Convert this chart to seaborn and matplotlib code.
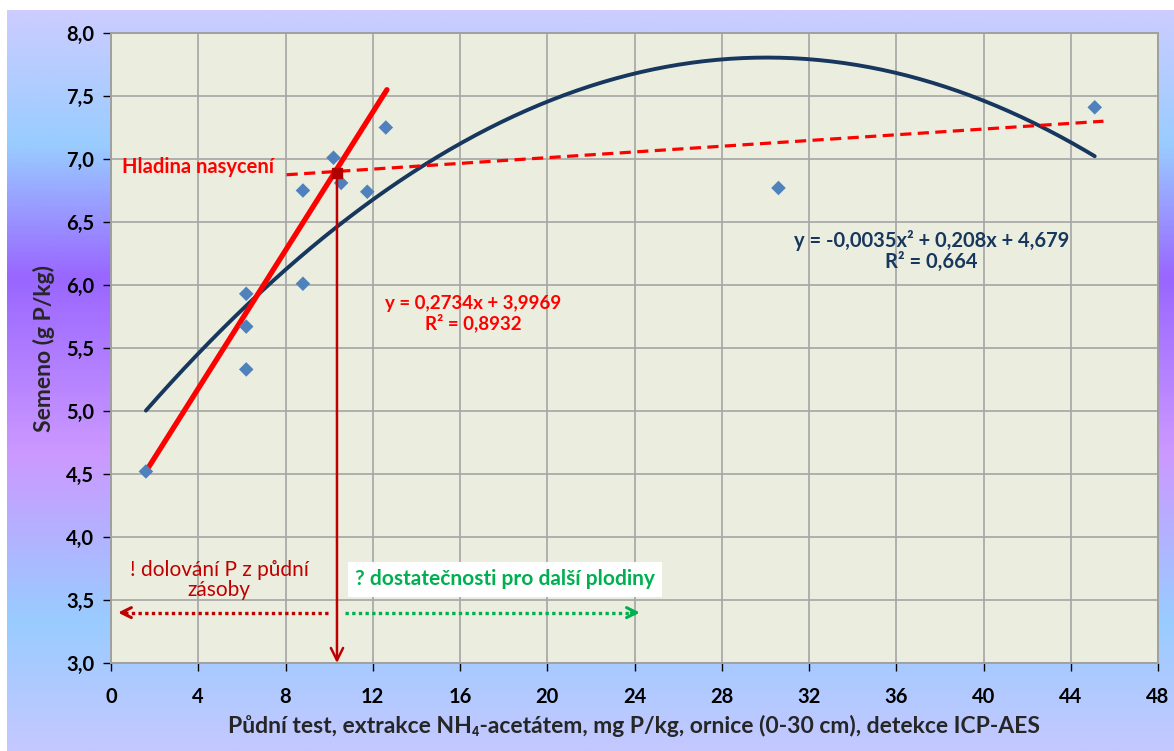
import matplotlib
matplotlib.use("Agg")
import matplotlib.pyplot as plt
from matplotlib.colors import LinearSegmentedColormap
from matplotlib.ticker import FuncFormatter
import numpy as np
import pandas as pd
import seaborn as sns

# values
soil_p = [1.6, 6.2, 6.2, 6.2, 8.8, 8.8, 10.2, 10.55, 11.75, 12.6, 30.6, 45.1]
seed_p = [4.52, 5.93, 5.67, 5.33, 6.75, 6.01, 7.01, 6.81, 6.74, 7.25, 6.77, 7.41]

quad_coef = [-0.00346, 0.208, 4.679]      # polynomial trendline (label rounds a)
lin_x = [1.6, 12.65]                      # red linear trendline as drawn
lin_y = [4.52, 7.55]
plateau_x = [8.05, 45.5]                  # "Hladina nasyceni" dashed line
plateau_y = [6.875, 7.30]
break_x, break_y = 10.36, 6.89            # intersection point

lin_label = "y = 0,2734x + 3,9969\nR² = 0,8932"
quad_label = "y = -0,0035x² + 0,208x + 4,679\nR² = 0,664"

x_ticks = np.arange(0, 49, 4)
y_ticks = np.arange(3.0, 8.01, 0.5)

sns.set_theme(style="whitegrid")
plt.rcParams['font.family'] = ['Lato', 'DejaVu Sans']
plt.rcParams['font.weight'] = 'bold'

W, H = 1174, 751
fig = plt.figure(figsize=(W / 100, H / 100), dpi=100, facecolor='white')

# gradient chart-area background
bg = fig.add_axes([7 / W, 0, 1 - 7 / W, (H - 10) / H])
stops = [(0.0, '#CCCCFF'), ((143 - 10) / 741, '#99CCFF'), ((277 - 10) / 741, '#9966FF'),
         ((455 - 10) / 741, '#CC99FF'), ((622 - 10) / 741, '#99CCFF'), (1.0, '#C4C8FF')]
cmap = LinearSegmentedColormap.from_list('bg', stops)
bg.imshow(np.linspace(0, 1, 400).reshape(-1, 1), aspect='auto', cmap=cmap,
          extent=[0, 1, 0, 1])
bg.set_axis_off()

ax = fig.add_axes([111 / W, (H - 663) / H, (1158 - 111) / W, (663 - 33) / H])
ax.set_facecolor('#EBEEDE')

df = pd.DataFrame({'x': soil_p, 'y': seed_p})

# polynomial trend
xq = np.linspace(min(soil_p), max(soil_p), 300)
yq = np.polyval(quad_coef, xq)
sns.lineplot(x=xq, y=yq, ax=ax, color='#17375E', linewidth=2.8, zorder=3)

# linear and plateau lines
sns.lineplot(x=lin_x, y=lin_y, ax=ax, color='#FF0000', linewidth=3.8, zorder=4)
ax.plot(plateau_x, plateau_y, color='#FF0000', linewidth=2.3, linestyle=(0, (3.5, 2)), zorder=4)

sns.scatterplot(data=df, x='x', y='y', ax=ax, marker='D', s=55, color='#4F81BD',
                edgecolor='none', zorder=5)

# vertical arrow from saturation point
ax.annotate('', xy=(break_x, 3.0), xytext=(break_x, break_y),
            arrowprops=dict(arrowstyle='->', color='#C00000', lw=1.8, mutation_scale=22,
                            shrinkA=0, shrinkB=0), zorder=6)
ax.plot([break_x], [break_y], marker='s', markersize=7, color='#B00000', zorder=7)

# dotted arrows
ax.plot([9.95, 0.5], [3.40, 3.40], color='#C00000', linewidth=2.4, linestyle=(0, (1, 1)))
ax.annotate('', xy=(0.32, 3.40), xytext=(0.7, 3.40),
            arrowprops=dict(arrowstyle='->', color='#C00000', lw=2.2, mutation_scale=18,
                            shrinkA=0, shrinkB=0))
ax.plot([10.75, 24.0], [3.40, 3.40], color='#00B050', linewidth=2.4, linestyle=(0, (1, 1)))
ax.annotate('', xy=(24.25, 3.40), xytext=(23.85, 3.40),
            arrowprops=dict(arrowstyle='->', color='#00B050', lw=2.2, mutation_scale=18,
                            shrinkA=0, shrinkB=0))

# texts
ax.text(0.5, 6.94, "Hladina nasycení", color='#FF0000', fontsize=14.5,
        fontweight='bold', ha='left', va='center')
ax.text(16.6, 5.77, lin_label, color='#FF0000', fontsize=13.5, fontweight='bold',
        ha='center', va='center', multialignment='center', linespacing=1.1)
ax.text(37.6, 6.27, quad_label, color='#17375E', fontsize=14.5, fontweight='bold',
        ha='center', va='center', multialignment='center', linespacing=1.05)
ax.text(4.95, 3.66, "! dolování P z půdní\nzásoby", color='#C00000', fontsize=15,
        fontweight='normal', ha='center', va='center', multialignment='center',
        linespacing=1.0)
ax.text(18.06, 3.665, "? dostatečnosti pro další plodiny", color='#00B050', fontsize=15,
        fontweight='bold', ha='center', va='center',
        bbox=dict(boxstyle='square,pad=0.35', facecolor='white', edgecolor='none'))

ax.set_xlim(0, 48)
ax.set_ylim(3.0, 8.0)
ax.set_xticks(x_ticks)
ax.set_yticks(y_ticks)
ax.yaxis.set_major_formatter(FuncFormatter(lambda v, p: f"{v:.1f}".replace('.', ',')))
ax.tick_params(axis='both', labelsize=14.5, colors='#000000', length=6, width=1,
               direction='out', pad=6)
ax.tick_params(axis='x', pad=11)
for t in ax.get_xticklines() + ax.get_yticklines():
    t.set_color('#909090')
ax.xaxis.set_ticks_position('bottom')
ax.yaxis.set_ticks_position('left')
ax.grid(True, color='#A5A5A5', linewidth=1.2)
for s in ax.spines.values():
    s.set_visible(True)
    s.set_color('#A0A0A0')
    s.set_linewidth(1.4)

ax.set_xlabel("Půdní test, extrakce NH₄-acetátem, mg P/kg, ornice (0-30 cm), detekce ICP-AES",
              fontsize=16.5, fontweight='bold', labelpad=6)
ax.set_ylabel("Semeno (g P/kg)", fontsize=16.5, fontweight='bold', labelpad=8)

fig.savefig('out.png', dpi=100, facecolor='white')
